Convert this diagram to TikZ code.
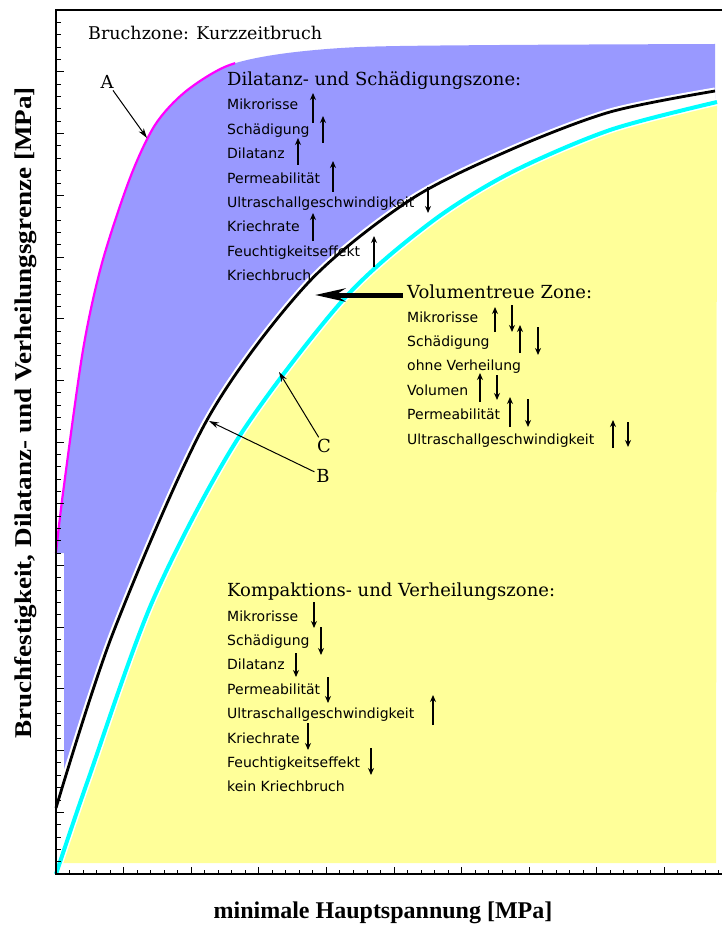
\documentclass[tikz,border=0pt]{standalone}
\usepackage{fontspec}
\usepackage{graphicx}
\usetikzlibrary{positioning,arrows.meta}

\newfontfamily\serifschrift{DejaVu Serif}
\newfontfamily\sansschrift{DejaVu Sans}
\newfontfamily\achsschrift{Liberation Serif}

\definecolor{blauzone}{RGB}{153,153,255}
\definecolor{gelbzone}{RGB}{255,255,153}
\definecolor{linieA}{RGB}{255,0,255}
\definecolor{linieC}{RGB}{0,255,255}

% Grenzkurven: A Bruch, B Dilatanz, C Verheilung
\def\kurveA{plot[smooth] coordinates {(56,553) (63,493) (83,350) (102,263) (130,178) (155,125) (185,92) (227,66) (280,54) (360,47) (500,45) (715,44)}}
\def\kurveB{plot[smooth] coordinates {(56,808) (113,633) (207,420) (307,284) (410,200) (510,150) (610,112) (715,91)}}
\def\kurveC{plot[smooth] coordinates {(56,874) (88,780) (153,600) (237,440) (343,300) (430,223) (510,173) (610,130) (717,102)}}

\begin{document}
\begin{tikzpicture}[
    x=1pt, y=-1pt,
    node distance=10pt,
    achse/.style={line width=1.2pt},
    strich/.style={line width=0.9pt},
    titel/.style={font=\serifschrift\fontsize{18}{21}\selectfont, inner sep=0pt},
    eintrag/.style={font=\sansschrift\fontsize{14}{17}\selectfont, inner sep=0pt,
        text height=11pt, text depth=3pt},
    kl/.style={line width=1.3pt, -{Stealth[length=7pt,width=6pt]}},
    zeig/.style={line width=1pt, shorten <=2pt, -{Stealth[length=10pt,width=6pt]}},
    dick/.style={line width=5pt, -{Stealth[length=30pt,width=13pt]}},
    achstext/.style={font=\achsschrift\bfseries\fontsize{24}{28}\selectfont}
]
\useasboundingbox (0,0) rectangle (722,925);

% Zonen
\fill[blauzone] \kurveA -- (715,300) -- (64,800) -- (64,553) -- cycle;
\fill[white] \kurveB -- (715,874) -- (56,874) -- cycle;
\fill[gelbzone] \kurveC -- (716,863) -- (60,863) -- cycle;

% Kurven
\draw[white, line width=7pt] \kurveB;
\draw[white, line width=7pt] \kurveC;
\begin{scope}
  \clip (0,0) rectangle (235,925);
  \draw[linieA, line width=2.2pt] \kurveA;
\end{scope}
\draw[line width=2.8pt] \kurveB;
\draw[linieC, line width=4pt] \kurveC;

% Achsen
\draw[achse] (722,10) -- (56,10) -- (56,874) -- (722,874);
\foreach \k in {0,...,70}
    \draw[strich] (56,874-12.34*\k) -- ++(5,0);
\foreach \k in {0,5,...,70}
    \draw[strich] (56,874-12.34*\k) -- ++(8,0);
\foreach \k in {0,...,49}
    \draw[strich] (56+13.52*\k,874) -- ++(0,-4);
\foreach \k in {0,5,...,45}
    \draw[strich] (56+13.52*\k,874) -- ++(0,-7);

\node[achstext, anchor=base] (xlab) at (383,918) {minimale Hauptspannung [MPa]};
\node[achstext, anchor=base, rotate=90] (ylab) at (31,413)
    {\scalebox{1.13}[1]{Bruchfestigkeit, Dilatanz- und Verheilungsgrenze [MPa]}};

\node[titel, font=\serifschrift\fontsize{17.5}{21}\selectfont, anchor=base west] (bruch) at (88,40) {Bruchzone: Kurzzeitbruch};

% Dilatanz- und Schaedigungszone
\node[titel, anchor=base west] (dil) at (227,86) {Dilatanz- und Schädigungszone:};
\node[eintrag, anchor=base west] (dil1) at (227,110) {Mikrorisse};
\node[eintrag, below=of dil1.south west, anchor=north west] (dil2) {Schädigung};
\node[eintrag, below=of dil2.south west, anchor=north west] (dil3) {Dilatanz};
\node[eintrag, below=of dil3.south west, anchor=north west] (dil4) {Permeabilität};
\node[eintrag, below=of dil4.south west, anchor=north west] (dil5) {Ultraschallgeschwindigkeit};
\node[eintrag, below=of dil5.south west, anchor=north west] (dil6) {Kriechrate};
\node[eintrag, below=of dil6.south west, anchor=north west] (dil7) {Feuchtigkeitseffekt};
\node[eintrag, below=of dil7.south west, anchor=north west] (dil8) {Kriechbruch};

% Volumentreue Zone
\node[titel, anchor=base west] (vol) at (407,298) {Volumentreue Zone:};
\node[eintrag, anchor=base west] (vol1) at (407,322) {Mikrorisse};
\node[eintrag, below=of vol1.south west, anchor=north west] (vol2) {Schädigung};
\node[eintrag, below=of vol2.south west, anchor=north west] (vol3) {ohne Verheilung};
\node[eintrag, below=of vol3.south west, anchor=north west] (vol4) {Volumen};
\node[eintrag, below=of vol4.south west, anchor=north west] (vol5) {Permeabilität};
\node[eintrag, below=of vol5.south west, anchor=north west] (vol6) {Ultraschallgeschwindigkeit};

% Kompaktions- und Verheilungszone
\node[titel, anchor=base west] (komp) at (227,596) {Kompaktions- und Verheilungszone:};
\node[eintrag, anchor=base west] (komp1) at (227,621) {Mikrorisse};
\node[eintrag, below=of komp1.south west, anchor=north west] (komp2) {Schädigung};
\node[eintrag, below=of komp2.south west, anchor=north west] (komp3) {Dilatanz};
\node[eintrag, below=of komp3.south west, anchor=north west] (komp4) {Permeabilität};
\node[eintrag, below=of komp4.south west, anchor=north west] (komp5) {Ultraschallgeschwindigkeit};
\node[eintrag, below=of komp5.south west, anchor=north west] (komp6) {Kriechrate};
\node[eintrag, below=of komp6.south west, anchor=north west] (komp7) {Feuchtigkeitseffekt};
\node[eintrag, below=of komp7.south west, anchor=north west] (komp8) {kein Kriechbruch};

% Pfeile nach oben (x/oben/unten)
\foreach \x/\a/\b in {313/93/123, 323/116/143, 298/138/165, 333/161/192, 313/213/241, 374/236/267,
    495/307/332, 520/325/353, 480/373/402, 510/397/427, 613/420/448, 433/695/725}
    \draw[kl] (\x,\b) -- (\x,\a);
% Pfeile nach unten
\foreach \x/\a/\b in {428/187/213, 512/305/332, 538/327/355, 497/375/400, 528/399/427, 628/422/447,
    314/602/628, 321/627/655, 296/653/677, 328/677/703, 308/723/750, 371/748/775}
    \draw[kl] (\x,\a) -- (\x,\b);

% Kurvenbezeichnungen
\node[titel] (lblA) at (107,82) {A};
\node[titel] (lblB) at (323,476) {B};
\node[titel] (lblC) at (324,446) {C};
\coordinate (spitzeA) at (147,138);
\coordinate (spitzeB) at (209,421);
\coordinate (spitzeC) at (279,372);
\coordinate (spitzeV) at (315,295);

\draw[zeig] (lblA) -- (spitzeA);
\draw[zeig] (lblB) -- (spitzeB);
\draw[zeig] (lblC) -- (spitzeC);
\draw[dick] ([xshift=-4pt,yshift=3pt]vol.base west) -- (spitzeV);

\end{tikzpicture}
\end{document}
